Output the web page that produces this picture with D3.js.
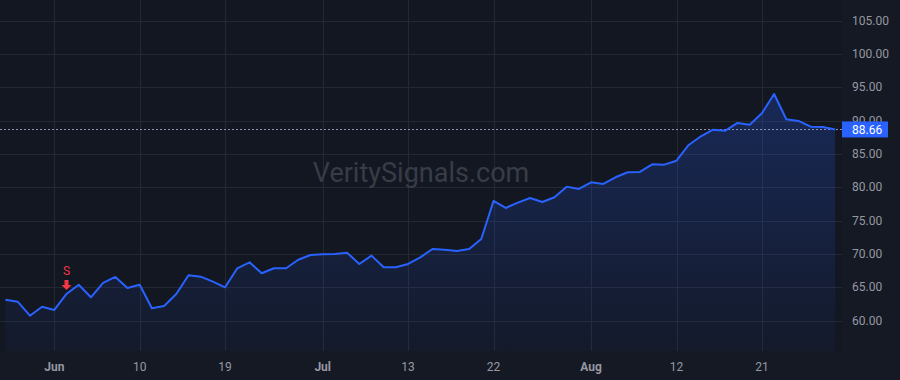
<!DOCTYPE html>
<html>
<head>
<meta charset="utf-8">
<script src="https://cdn.jsdelivr.net/npm/d3@7"></script>
<style>
  html, body { margin: 0; padding: 0; background: #131722; }
  svg { display: block; }
</style>
</head>
<body>
<div id="chart"></div>
<script>
const width = 900;
const height = 380;

// trading days, May 26 - Aug 31
const dates = [
  "2020-05-26","2020-05-27","2020-05-28","2020-05-29",
  "2020-06-01","2020-06-02","2020-06-03","2020-06-04","2020-06-05",
  "2020-06-08","2020-06-09","2020-06-10","2020-06-11","2020-06-12",
  "2020-06-15","2020-06-16","2020-06-17","2020-06-18","2020-06-19",
  "2020-06-22","2020-06-23","2020-06-24","2020-06-25","2020-06-26",
  "2020-06-29","2020-06-30","2020-07-01","2020-07-02",
  "2020-07-06","2020-07-07","2020-07-08","2020-07-09","2020-07-10",
  "2020-07-13","2020-07-14","2020-07-15","2020-07-16","2020-07-17",
  "2020-07-20","2020-07-21","2020-07-22","2020-07-23","2020-07-24",
  "2020-07-27","2020-07-28","2020-07-29","2020-07-30","2020-07-31",
  "2020-08-03","2020-08-04","2020-08-05","2020-08-06","2020-08-07",
  "2020-08-10","2020-08-11","2020-08-12","2020-08-13","2020-08-14",
  "2020-08-17","2020-08-18","2020-08-19","2020-08-20","2020-08-21",
  "2020-08-24","2020-08-25","2020-08-26","2020-08-27","2020-08-28",
  "2020-08-31"
];

const closes = [
  63.12, 62.82, 60.72, 62.07,
  61.58, 63.98, 65.37, 63.48, 65.63,
  66.53, 64.88, 65.37, 61.83, 62.18,
  63.98, 66.78, 66.58, 65.82, 64.98,
  67.83, 68.73, 67.08, 67.83, 67.83,
  69.12, 69.83, 69.93, 69.98,
  70.17, 68.48, 69.73, 67.98, 67.98,
  68.48, 69.48, 70.73, 70.63, 70.43,
  70.73, 72.23, 77.93, 76.88, 77.68,
  78.38, 77.78, 78.48, 80.08, 79.73,
  80.73, 80.48, 81.48, 82.23, 82.28,
  83.43, 83.38, 83.97, 86.33, 87.63,
  88.62, 88.47, 89.63, 89.37, 91.08,
  93.98, 90.18, 89.93, 89.07, 89.02,
  88.66
];

const lastPrice = 88.66;

const xTickDates = ["2020-06-01","2020-06-10","2020-06-19","2020-07-01","2020-07-13","2020-07-22","2020-08-03","2020-08-12","2020-08-21"];
const xTickLabels = ["Jun","10","19","Jul","13","22","Aug","12","21"];
const monthTicks = ["Jun","Jul","Aug"];

const yTicks = [60, 65, 70, 75, 80, 85, 90, 95, 100, 105];

const signals = [{ date: "2020-06-02", label: "S" }];

const plotRight = 842;
const plotBottom = 351;

const x = d3.scalePoint().domain(dates).range([5.5, 835.1]);
const y = d3.scaleLinear().domain([55.425, 108.075]).range([plotBottom, 0]);

const data = dates.map((d, i) => ({ date: d, value: closes[i] }));

const svg = d3.select("#chart").append("svg")
  .attr("width", width)
  .attr("height", height)
  .attr("viewBox", [0, 0, width, height])
  .style("font-family", "Roboto, 'Liberation Sans', sans-serif");

svg.append("rect").attr("width", width).attr("height", height).attr("fill", "#131722");
svg.append("rect").attr("x", plotRight).attr("width", width - plotRight).attr("height", height).attr("fill", "#151924");
svg.append("rect").attr("y", plotBottom).attr("width", width).attr("height", height - plotBottom).attr("fill", "#151924");

// grid
const grid = svg.append("g").attr("stroke", "#242833").attr("stroke-width", 1);
grid.selectAll("line.h").data(yTicks).join("line")
  .attr("class", "h")
  .attr("x1", 0).attr("x2", plotRight)
  .attr("y1", d => Math.round(y(d)) + 0.5).attr("y2", d => Math.round(y(d)) + 0.5);
grid.selectAll("line.v").data(xTickDates).join("line")
  .attr("class", "v")
  .attr("y1", 0).attr("y2", plotBottom)
  .attr("x1", d => Math.round(x(d)) + 0.5).attr("x2", d => Math.round(x(d)) + 0.5);

// watermark
svg.append("text")
  .attr("x", 421).attr("y", 182)
  .attr("text-anchor", "middle")
  .attr("font-size", 27)
  .attr("fill", "#383c47")
  .text("VeritySignals.com");

// area gradient
const defs = svg.append("defs");
const grad = defs.append("linearGradient")
  .attr("id", "fillGrad")
  .attr("gradientUnits", "userSpaceOnUse")
  .attr("x1", 0).attr("x2", 0)
  .attr("y1", y(d3.max(closes))).attr("y2", plotBottom);
grad.append("stop").attr("offset", 0).attr("stop-color", "#2962ff").attr("stop-opacity", 0.24);
grad.append("stop").attr("offset", 1).attr("stop-color", "#2962ff").attr("stop-opacity", 0.04);

const area = d3.area()
  .x(d => x(d.date))
  .y0(plotBottom)
  .y1(d => y(d.value));

svg.append("path")
  .datum(data)
  .attr("d", area)
  .attr("fill", "url(#fillGrad)");

// last price line
svg.append("line")
  .attr("x1", 0).attr("x2", plotRight)
  .attr("y1", Math.round(y(lastPrice)) + 0.5).attr("y2", Math.round(y(lastPrice)) + 0.5)
  .attr("stroke", "#8a93b0")
  .attr("stroke-width", 1)
  .attr("stroke-dasharray", "2,2");

const line = d3.line()
  .x(d => x(d.date))
  .y(d => y(d.value));

svg.append("path")
  .datum(data)
  .attr("d", line)
  .attr("fill", "none")
  .attr("stroke", "#2962ff")
  .attr("stroke-width", 2)
  .attr("stroke-linejoin", "round");

// signal markers
const sig = svg.append("g").selectAll("g").data(signals).join("g")
  .attr("transform", d => {
    const v = closes[dates.indexOf(d.date)];
    return `translate(${x(d.date)},${y(v)})`;
  });
sig.append("path")
  .attr("d", "M-2,-14 L2,-14 L2,-9 L5,-9 L0,-4 L-5,-9 L-2,-9 Z")
  .attr("fill", "#f23645");
sig.append("text")
  .attr("y", -19)
  .attr("text-anchor", "middle")
  .attr("font-size", 12)
  .attr("fill", "#f23645")
  .text(d => d.label);

// right axis
svg.append("g").selectAll("text").data(yTicks).join("text")
  .attr("x", 852)
  .attr("y", d => y(d))
  .attr("dy", "0.35em")
  .attr("font-size", 12)
  .attr("fill", "#9598a1")
  .text(d => d3.format(".2f")(d));

// last price label
const lp = svg.append("g").attr("transform", `translate(${plotRight},${y(lastPrice)})`);
lp.append("rect")
  .attr("x", 0).attr("y", -8).attr("width", 46).attr("height", 16)
  .attr("fill", "#2962ff");
lp.append("text")
  .attr("x", 10).attr("dy", "0.35em")
  .attr("font-size", 12)
  .attr("fill", "#ffffff")
  .text(d3.format(".2f")(lastPrice));

// bottom axis
svg.append("g").selectAll("text").data(xTickDates).join("text")
  .attr("x", d => x(d))
  .attr("y", 367)
  .attr("dy", "0.35em")
  .attr("text-anchor", "middle")
  .attr("font-size", 12)
  .attr("font-weight", (d, i) => monthTicks.includes(xTickLabels[i]) ? "bold" : "normal")
  .attr("fill", "#9598a1")
  .text((d, i) => xTickLabels[i]);
</script>
</body>
</html>
